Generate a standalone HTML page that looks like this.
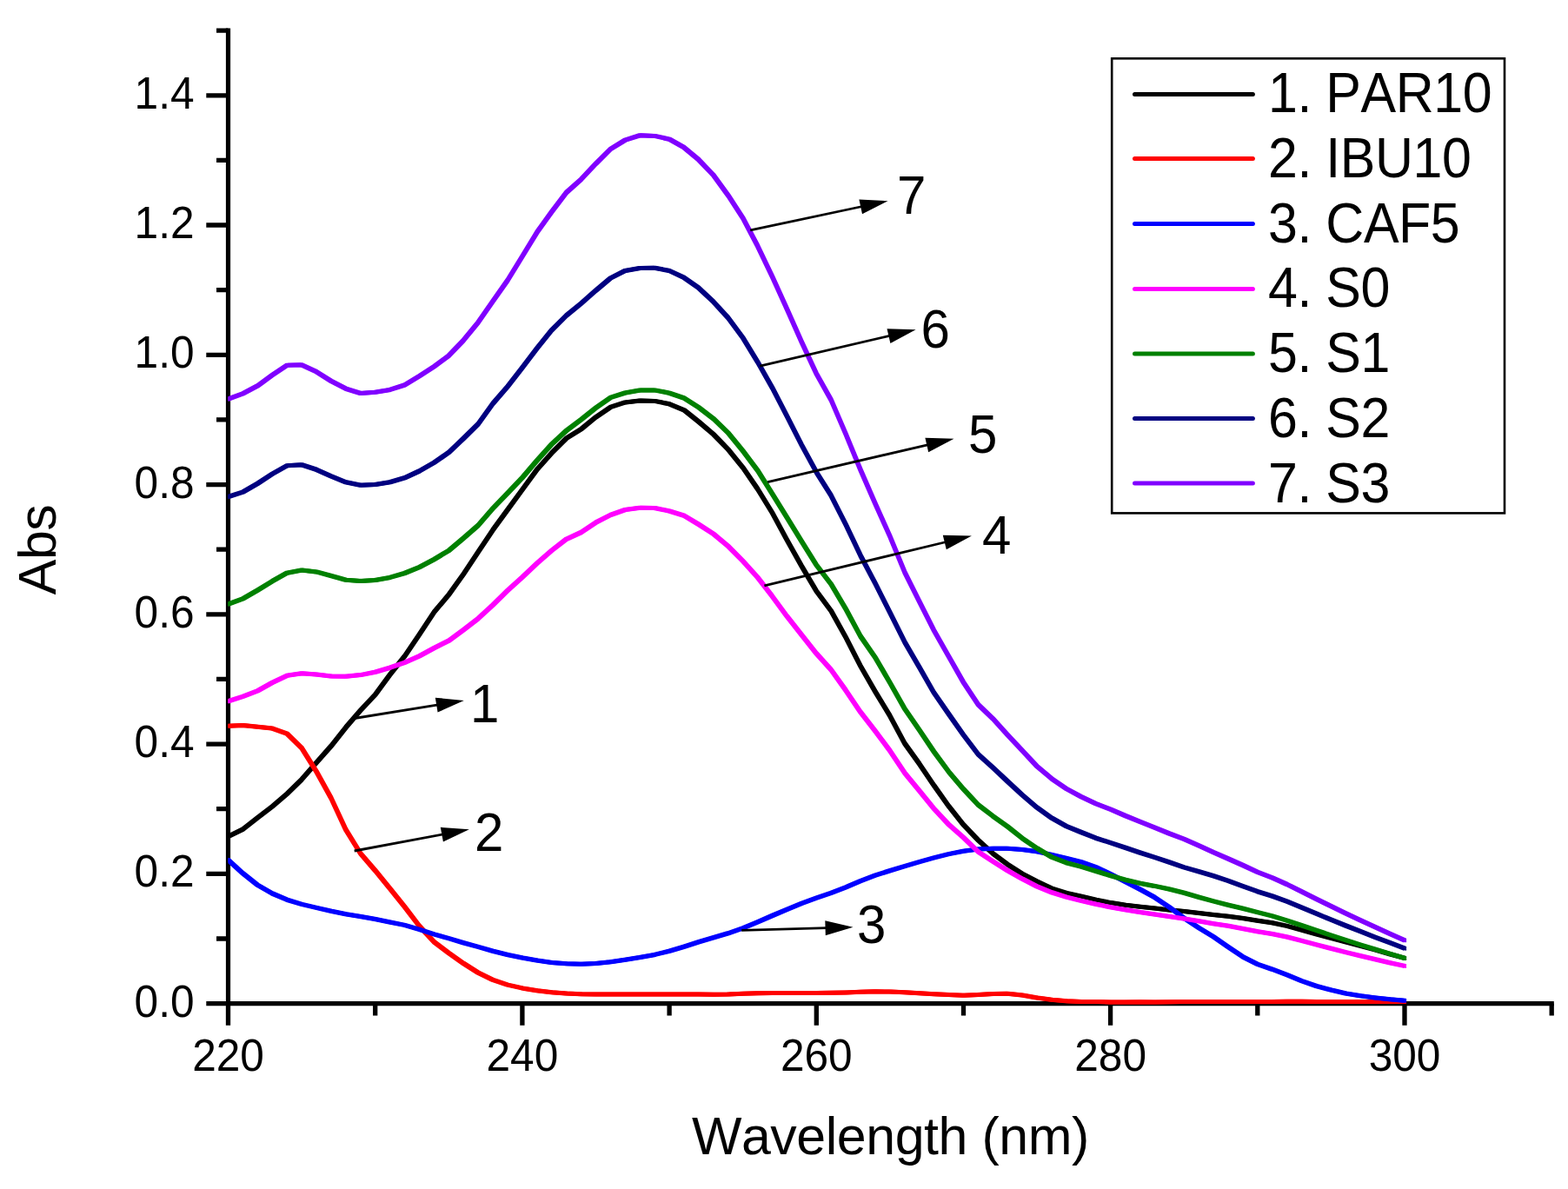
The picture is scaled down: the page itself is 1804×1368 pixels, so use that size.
<!DOCTYPE html>
<html lang="en">
<head>
<meta charset="utf-8">
<title>UV absorbance spectra</title>
<style>
html,body{margin:0;padding:0;background:#fff;}
body{width:1804px;height:1368px;overflow:hidden;}
svg{display:block;}
text{font-family:"Liberation Sans", sans-serif;fill:#000;font-kerning:none;}
.tk{font-size:49.6px;}
.bg{font-size:60.9px;letter-spacing:-0.45px;}
.an{font-size:60px;}
.ax{stroke:#000;stroke-width:5.2;fill:none;stroke-linecap:square;}
.tkl{stroke:#000;stroke-width:5.3;fill:none;stroke-linecap:butt;}
.cv{fill:none;stroke-width:2.7;stroke-linejoin:round;stroke-linecap:round;}
.lg{fill:none;stroke-width:5;stroke-linecap:round;}
.ar{stroke:#000;stroke-width:2.8;fill:none;}
</style>
</head>
<body>
<svg width="1804" height="1368" viewBox="0 0 1804 1368">
<rect x="0" y="0" width="1804" height="1368" fill="#fff"/>
<g id="axes"><path class="ax" d="M262.5 35.2 V1154.6 M262.5 1154.6 H1785.2"/><path class="tkl" d="M237.3 1154.6 H262.5 M249 1080 H262.5 M237.3 1005.3 H262.5 M249 930.7 H262.5 M237.3 856.1 H262.5 M249 781.4 H262.5 M237.3 706.8 H262.5 M249 632.2 H262.5 M237.3 557.6 H262.5 M249 482.9 H262.5 M237.3 408.3 H262.5 M249 333.7 H262.5 M237.3 259 H262.5 M249 184.4 H262.5 M237.3 109.8 H262.5 M249 35.2 H262.5 M262.5 1154.6 V1179.8 M431.7 1154.6 V1168.4 M600.9 1154.6 V1179.8 M770.1 1154.6 V1168.4 M939.3 1154.6 V1179.8 M1108.5 1154.6 V1168.4 M1277.6 1154.6 V1179.8 M1446.8 1154.6 V1168.4 M1616 1154.6 V1179.8 M1785.2 1154.6 V1168.4"/></g>
<g id="yticks" class="tk" text-anchor="end">
<text transform="translate(223.5 1169.6) scale(1 1.04)">0.0</text>
<text transform="translate(223.5 1020.3) scale(1 1.04)">0.2</text>
<text transform="translate(223.5 871.1) scale(1 1.04)">0.4</text>
<text transform="translate(223.5 721.8) scale(1 1.04)">0.6</text>
<text transform="translate(223.5 572.6) scale(1 1.04)">0.8</text>
<text transform="translate(223.5 423.3) scale(1 1.04)">1.0</text>
<text transform="translate(223.5 274) scale(1 1.04)">1.2</text>
<text transform="translate(223.5 124.8) scale(1 1.04)">1.4</text>
</g>
<g id="xticks" class="tk" text-anchor="middle">
<text transform="translate(262.5 1231.9) scale(1 1.04)">220</text>
<text transform="translate(600.9 1231.9) scale(1 1.04)">240</text>
<text transform="translate(939.3 1231.9) scale(1 1.04)">260</text>
<text transform="translate(1277.6 1231.9) scale(1 1.04)">280</text>
<text transform="translate(1616 1231.9) scale(1 1.04)">300</text>
</g>
<text class="bg" text-anchor="middle" transform="translate(1024.3 1328.4)">Wavelength (nm)</text>
<text class="bg" text-anchor="middle" transform="translate(64.4 632.5) rotate(-90)">Abs</text>
<defs><clipPath id="plotclip"><rect x="262.3" y="0" width="1356" height="1368"/></clipPath></defs>
<g id="curves" clip-path="url(#plotclip)">
<g class="cv" stroke="#000000"><polyline points="262.5,962.5 279.4,954.1 296.3,940.9 313.3,927.9 330.2,913.3 347.1,896.8 364.0,877.5 380.9,858.4 397.9,836.9 414.8,817.3 431.7,799.3 448.6,776.2 465.5,755.1 482.4,730.2 499.4,704.3 516.3,684.3 533.2,660.6 550.1,635.1 567.0,609.8 584.0,586.5 600.9,563.4 617.8,540.2 634.7,521.2 651.6,504.3 668.6,493.7 685.5,479.9 702.4,468.4 719.3,462.9 736.2,461.0 753.2,461.4 770.1,464.8 787.0,471.8 803.9,485.3 820.8,499.6 837.7,517.0 854.7,537.9 871.6,562.5 888.5,590.0 905.4,621.2 922.3,651.4 939.3,680.1 956.2,702.9 973.1,733.2 990.0,766.3 1006.9,795.6 1023.9,823.7 1040.8,855.3 1057.7,878.8 1074.6,903.8 1091.5,927.6 1108.5,948.9 1125.4,966.6 1142.3,981.9 1159.2,994.6 1176.1,1005.4 1193.0,1014.1 1210.0,1022.2 1226.9,1027.5 1243.8,1031.1 1260.7,1035.1 1277.6,1038.6 1294.6,1041.2 1311.5,1043.2 1328.4,1045.0 1345.3,1046.9 1362.2,1048.5 1379.2,1050.4 1396.1,1052.4 1413.0,1054.2 1429.9,1056.5 1446.8,1059.2 1463.7,1061.8 1480.7,1065.4 1497.6,1070.0 1514.5,1074.7 1531.4,1079.3 1548.3,1083.8 1565.3,1088.3 1582.2,1092.9 1599.1,1097.7 1616.0,1102.4" transform="translate(-1.15 -1.15)"/><polyline points="262.5,962.5 279.4,954.1 296.3,940.9 313.3,927.9 330.2,913.3 347.1,896.8 364.0,877.5 380.9,858.4 397.9,836.9 414.8,817.3 431.7,799.3 448.6,776.2 465.5,755.1 482.4,730.2 499.4,704.3 516.3,684.3 533.2,660.6 550.1,635.1 567.0,609.8 584.0,586.5 600.9,563.4 617.8,540.2 634.7,521.2 651.6,504.3 668.6,493.7 685.5,479.9 702.4,468.4 719.3,462.9 736.2,461.0 753.2,461.4 770.1,464.8 787.0,471.8 803.9,485.3 820.8,499.6 837.7,517.0 854.7,537.9 871.6,562.5 888.5,590.0 905.4,621.2 922.3,651.4 939.3,680.1 956.2,702.9 973.1,733.2 990.0,766.3 1006.9,795.6 1023.9,823.7 1040.8,855.3 1057.7,878.8 1074.6,903.8 1091.5,927.6 1108.5,948.9 1125.4,966.6 1142.3,981.9 1159.2,994.6 1176.1,1005.4 1193.0,1014.1 1210.0,1022.2 1226.9,1027.5 1243.8,1031.1 1260.7,1035.1 1277.6,1038.6 1294.6,1041.2 1311.5,1043.2 1328.4,1045.0 1345.3,1046.9 1362.2,1048.5 1379.2,1050.4 1396.1,1052.4 1413.0,1054.2 1429.9,1056.5 1446.8,1059.2 1463.7,1061.8 1480.7,1065.4 1497.6,1070.0 1514.5,1074.7 1531.4,1079.3 1548.3,1083.8 1565.3,1088.3 1582.2,1092.9 1599.1,1097.7 1616.0,1102.4" transform="translate(1.15 -1.15)"/><polyline points="262.5,962.5 279.4,954.1 296.3,940.9 313.3,927.9 330.2,913.3 347.1,896.8 364.0,877.5 380.9,858.4 397.9,836.9 414.8,817.3 431.7,799.3 448.6,776.2 465.5,755.1 482.4,730.2 499.4,704.3 516.3,684.3 533.2,660.6 550.1,635.1 567.0,609.8 584.0,586.5 600.9,563.4 617.8,540.2 634.7,521.2 651.6,504.3 668.6,493.7 685.5,479.9 702.4,468.4 719.3,462.9 736.2,461.0 753.2,461.4 770.1,464.8 787.0,471.8 803.9,485.3 820.8,499.6 837.7,517.0 854.7,537.9 871.6,562.5 888.5,590.0 905.4,621.2 922.3,651.4 939.3,680.1 956.2,702.9 973.1,733.2 990.0,766.3 1006.9,795.6 1023.9,823.7 1040.8,855.3 1057.7,878.8 1074.6,903.8 1091.5,927.6 1108.5,948.9 1125.4,966.6 1142.3,981.9 1159.2,994.6 1176.1,1005.4 1193.0,1014.1 1210.0,1022.2 1226.9,1027.5 1243.8,1031.1 1260.7,1035.1 1277.6,1038.6 1294.6,1041.2 1311.5,1043.2 1328.4,1045.0 1345.3,1046.9 1362.2,1048.5 1379.2,1050.4 1396.1,1052.4 1413.0,1054.2 1429.9,1056.5 1446.8,1059.2 1463.7,1061.8 1480.7,1065.4 1497.6,1070.0 1514.5,1074.7 1531.4,1079.3 1548.3,1083.8 1565.3,1088.3 1582.2,1092.9 1599.1,1097.7 1616.0,1102.4" transform="translate(-1.15 1.15)"/><polyline points="262.5,962.5 279.4,954.1 296.3,940.9 313.3,927.9 330.2,913.3 347.1,896.8 364.0,877.5 380.9,858.4 397.9,836.9 414.8,817.3 431.7,799.3 448.6,776.2 465.5,755.1 482.4,730.2 499.4,704.3 516.3,684.3 533.2,660.6 550.1,635.1 567.0,609.8 584.0,586.5 600.9,563.4 617.8,540.2 634.7,521.2 651.6,504.3 668.6,493.7 685.5,479.9 702.4,468.4 719.3,462.9 736.2,461.0 753.2,461.4 770.1,464.8 787.0,471.8 803.9,485.3 820.8,499.6 837.7,517.0 854.7,537.9 871.6,562.5 888.5,590.0 905.4,621.2 922.3,651.4 939.3,680.1 956.2,702.9 973.1,733.2 990.0,766.3 1006.9,795.6 1023.9,823.7 1040.8,855.3 1057.7,878.8 1074.6,903.8 1091.5,927.6 1108.5,948.9 1125.4,966.6 1142.3,981.9 1159.2,994.6 1176.1,1005.4 1193.0,1014.1 1210.0,1022.2 1226.9,1027.5 1243.8,1031.1 1260.7,1035.1 1277.6,1038.6 1294.6,1041.2 1311.5,1043.2 1328.4,1045.0 1345.3,1046.9 1362.2,1048.5 1379.2,1050.4 1396.1,1052.4 1413.0,1054.2 1429.9,1056.5 1446.8,1059.2 1463.7,1061.8 1480.7,1065.4 1497.6,1070.0 1514.5,1074.7 1531.4,1079.3 1548.3,1083.8 1565.3,1088.3 1582.2,1092.9 1599.1,1097.7 1616.0,1102.4" transform="translate(1.15 1.15)"/></g>
<g class="cv" stroke="#ff0000"><polyline points="262.5,835.3 279.4,834.4 296.3,836.2 313.3,838.1 330.2,844.2 347.1,860.6 364.0,887.6 380.9,918.1 397.9,954.7 414.8,982.0 431.7,1001.6 448.6,1022.3 465.5,1043.3 482.4,1065.4 499.4,1083.7 516.3,1096.5 533.2,1108.4 550.1,1119.1 567.0,1127.4 584.0,1133.1 600.9,1136.9 617.8,1139.7 634.7,1141.8 651.6,1143.1 668.6,1143.8 685.5,1144.1 702.4,1144.1 719.3,1144.1 736.2,1144.1 753.2,1144.1 770.1,1144.1 787.0,1144.1 803.9,1144.1 820.8,1144.2 837.7,1144.0 854.7,1143.3 871.6,1142.8 888.5,1142.6 905.4,1142.6 922.3,1142.5 939.3,1142.4 956.2,1142.3 973.1,1141.9 990.0,1141.3 1006.9,1140.8 1023.9,1141.0 1040.8,1141.8 1057.7,1142.8 1074.6,1143.8 1091.5,1144.6 1108.5,1145.2 1125.4,1144.5 1142.3,1143.4 1159.2,1143.3 1176.1,1145.1 1193.0,1147.9 1210.0,1150.2 1226.9,1151.7 1243.8,1152.4 1260.7,1152.6 1277.6,1152.9 1294.6,1152.9 1311.5,1152.7 1328.4,1153.0 1345.3,1152.8 1362.2,1152.6 1379.2,1152.5 1396.1,1152.4 1413.0,1152.4 1429.9,1152.6 1446.8,1152.6 1463.7,1152.5 1480.7,1152.3 1497.6,1152.3 1514.5,1152.4 1531.4,1152.4 1548.3,1152.4 1565.3,1152.4 1582.2,1152.4 1599.1,1152.6 1616.0,1152.6" transform="translate(-1.15 -1.15)"/><polyline points="262.5,835.3 279.4,834.4 296.3,836.2 313.3,838.1 330.2,844.2 347.1,860.6 364.0,887.6 380.9,918.1 397.9,954.7 414.8,982.0 431.7,1001.6 448.6,1022.3 465.5,1043.3 482.4,1065.4 499.4,1083.7 516.3,1096.5 533.2,1108.4 550.1,1119.1 567.0,1127.4 584.0,1133.1 600.9,1136.9 617.8,1139.7 634.7,1141.8 651.6,1143.1 668.6,1143.8 685.5,1144.1 702.4,1144.1 719.3,1144.1 736.2,1144.1 753.2,1144.1 770.1,1144.1 787.0,1144.1 803.9,1144.1 820.8,1144.2 837.7,1144.0 854.7,1143.3 871.6,1142.8 888.5,1142.6 905.4,1142.6 922.3,1142.5 939.3,1142.4 956.2,1142.3 973.1,1141.9 990.0,1141.3 1006.9,1140.8 1023.9,1141.0 1040.8,1141.8 1057.7,1142.8 1074.6,1143.8 1091.5,1144.6 1108.5,1145.2 1125.4,1144.5 1142.3,1143.4 1159.2,1143.3 1176.1,1145.1 1193.0,1147.9 1210.0,1150.2 1226.9,1151.7 1243.8,1152.4 1260.7,1152.6 1277.6,1152.9 1294.6,1152.9 1311.5,1152.7 1328.4,1153.0 1345.3,1152.8 1362.2,1152.6 1379.2,1152.5 1396.1,1152.4 1413.0,1152.4 1429.9,1152.6 1446.8,1152.6 1463.7,1152.5 1480.7,1152.3 1497.6,1152.3 1514.5,1152.4 1531.4,1152.4 1548.3,1152.4 1565.3,1152.4 1582.2,1152.4 1599.1,1152.6 1616.0,1152.6" transform="translate(1.15 -1.15)"/><polyline points="262.5,835.3 279.4,834.4 296.3,836.2 313.3,838.1 330.2,844.2 347.1,860.6 364.0,887.6 380.9,918.1 397.9,954.7 414.8,982.0 431.7,1001.6 448.6,1022.3 465.5,1043.3 482.4,1065.4 499.4,1083.7 516.3,1096.5 533.2,1108.4 550.1,1119.1 567.0,1127.4 584.0,1133.1 600.9,1136.9 617.8,1139.7 634.7,1141.8 651.6,1143.1 668.6,1143.8 685.5,1144.1 702.4,1144.1 719.3,1144.1 736.2,1144.1 753.2,1144.1 770.1,1144.1 787.0,1144.1 803.9,1144.1 820.8,1144.2 837.7,1144.0 854.7,1143.3 871.6,1142.8 888.5,1142.6 905.4,1142.6 922.3,1142.5 939.3,1142.4 956.2,1142.3 973.1,1141.9 990.0,1141.3 1006.9,1140.8 1023.9,1141.0 1040.8,1141.8 1057.7,1142.8 1074.6,1143.8 1091.5,1144.6 1108.5,1145.2 1125.4,1144.5 1142.3,1143.4 1159.2,1143.3 1176.1,1145.1 1193.0,1147.9 1210.0,1150.2 1226.9,1151.7 1243.8,1152.4 1260.7,1152.6 1277.6,1152.9 1294.6,1152.9 1311.5,1152.7 1328.4,1153.0 1345.3,1152.8 1362.2,1152.6 1379.2,1152.5 1396.1,1152.4 1413.0,1152.4 1429.9,1152.6 1446.8,1152.6 1463.7,1152.5 1480.7,1152.3 1497.6,1152.3 1514.5,1152.4 1531.4,1152.4 1548.3,1152.4 1565.3,1152.4 1582.2,1152.4 1599.1,1152.6 1616.0,1152.6" transform="translate(-1.15 1.15)"/><polyline points="262.5,835.3 279.4,834.4 296.3,836.2 313.3,838.1 330.2,844.2 347.1,860.6 364.0,887.6 380.9,918.1 397.9,954.7 414.8,982.0 431.7,1001.6 448.6,1022.3 465.5,1043.3 482.4,1065.4 499.4,1083.7 516.3,1096.5 533.2,1108.4 550.1,1119.1 567.0,1127.4 584.0,1133.1 600.9,1136.9 617.8,1139.7 634.7,1141.8 651.6,1143.1 668.6,1143.8 685.5,1144.1 702.4,1144.1 719.3,1144.1 736.2,1144.1 753.2,1144.1 770.1,1144.1 787.0,1144.1 803.9,1144.1 820.8,1144.2 837.7,1144.0 854.7,1143.3 871.6,1142.8 888.5,1142.6 905.4,1142.6 922.3,1142.5 939.3,1142.4 956.2,1142.3 973.1,1141.9 990.0,1141.3 1006.9,1140.8 1023.9,1141.0 1040.8,1141.8 1057.7,1142.8 1074.6,1143.8 1091.5,1144.6 1108.5,1145.2 1125.4,1144.5 1142.3,1143.4 1159.2,1143.3 1176.1,1145.1 1193.0,1147.9 1210.0,1150.2 1226.9,1151.7 1243.8,1152.4 1260.7,1152.6 1277.6,1152.9 1294.6,1152.9 1311.5,1152.7 1328.4,1153.0 1345.3,1152.8 1362.2,1152.6 1379.2,1152.5 1396.1,1152.4 1413.0,1152.4 1429.9,1152.6 1446.8,1152.6 1463.7,1152.5 1480.7,1152.3 1497.6,1152.3 1514.5,1152.4 1531.4,1152.4 1548.3,1152.4 1565.3,1152.4 1582.2,1152.4 1599.1,1152.6 1616.0,1152.6" transform="translate(1.15 1.15)"/></g>
<g class="cv" stroke="#0000ff"><polyline points="262.5,989.3 279.4,1004.8 296.3,1018.3 313.3,1028.0 330.2,1035.2 347.1,1040.4 364.0,1044.4 380.9,1048.3 397.9,1051.8 414.8,1054.5 431.7,1057.6 448.6,1060.9 465.5,1064.4 482.4,1069.4 499.4,1074.9 516.3,1079.6 533.2,1084.7 550.1,1089.4 567.0,1094.2 584.0,1098.5 600.9,1102.0 617.8,1105.1 634.7,1107.5 651.6,1108.8 668.6,1109.2 685.5,1108.5 702.4,1106.8 719.3,1104.3 736.2,1101.6 753.2,1098.4 770.1,1094.2 787.0,1089.2 803.9,1083.8 820.8,1078.8 837.7,1073.8 854.7,1067.8 871.6,1060.8 888.5,1053.5 905.4,1046.4 922.3,1039.3 939.3,1033.2 956.2,1027.4 973.1,1020.8 990.0,1013.6 1006.9,1007.1 1023.9,1001.8 1040.8,996.6 1057.7,991.6 1074.6,986.9 1091.5,982.6 1108.5,979.2 1125.4,976.9 1142.3,976.3 1159.2,976.3 1176.1,977.6 1193.0,979.7 1210.0,983.4 1226.9,987.5 1243.8,991.7 1260.7,997.6 1277.6,1005.6 1294.6,1014.4 1311.5,1023.1 1328.4,1032.4 1345.3,1043.7 1362.2,1056.2 1379.2,1067.5 1396.1,1077.8 1413.0,1089.5 1429.9,1100.8 1446.8,1109.4 1463.7,1115.2 1480.7,1121.6 1497.6,1128.6 1514.5,1134.5 1531.4,1139.0 1548.3,1143.0 1565.3,1145.7 1582.2,1147.9 1599.1,1149.8 1616.0,1151.3" transform="translate(-1.15 -1.15)"/><polyline points="262.5,989.3 279.4,1004.8 296.3,1018.3 313.3,1028.0 330.2,1035.2 347.1,1040.4 364.0,1044.4 380.9,1048.3 397.9,1051.8 414.8,1054.5 431.7,1057.6 448.6,1060.9 465.5,1064.4 482.4,1069.4 499.4,1074.9 516.3,1079.6 533.2,1084.7 550.1,1089.4 567.0,1094.2 584.0,1098.5 600.9,1102.0 617.8,1105.1 634.7,1107.5 651.6,1108.8 668.6,1109.2 685.5,1108.5 702.4,1106.8 719.3,1104.3 736.2,1101.6 753.2,1098.4 770.1,1094.2 787.0,1089.2 803.9,1083.8 820.8,1078.8 837.7,1073.8 854.7,1067.8 871.6,1060.8 888.5,1053.5 905.4,1046.4 922.3,1039.3 939.3,1033.2 956.2,1027.4 973.1,1020.8 990.0,1013.6 1006.9,1007.1 1023.9,1001.8 1040.8,996.6 1057.7,991.6 1074.6,986.9 1091.5,982.6 1108.5,979.2 1125.4,976.9 1142.3,976.3 1159.2,976.3 1176.1,977.6 1193.0,979.7 1210.0,983.4 1226.9,987.5 1243.8,991.7 1260.7,997.6 1277.6,1005.6 1294.6,1014.4 1311.5,1023.1 1328.4,1032.4 1345.3,1043.7 1362.2,1056.2 1379.2,1067.5 1396.1,1077.8 1413.0,1089.5 1429.9,1100.8 1446.8,1109.4 1463.7,1115.2 1480.7,1121.6 1497.6,1128.6 1514.5,1134.5 1531.4,1139.0 1548.3,1143.0 1565.3,1145.7 1582.2,1147.9 1599.1,1149.8 1616.0,1151.3" transform="translate(1.15 -1.15)"/><polyline points="262.5,989.3 279.4,1004.8 296.3,1018.3 313.3,1028.0 330.2,1035.2 347.1,1040.4 364.0,1044.4 380.9,1048.3 397.9,1051.8 414.8,1054.5 431.7,1057.6 448.6,1060.9 465.5,1064.4 482.4,1069.4 499.4,1074.9 516.3,1079.6 533.2,1084.7 550.1,1089.4 567.0,1094.2 584.0,1098.5 600.9,1102.0 617.8,1105.1 634.7,1107.5 651.6,1108.8 668.6,1109.2 685.5,1108.5 702.4,1106.8 719.3,1104.3 736.2,1101.6 753.2,1098.4 770.1,1094.2 787.0,1089.2 803.9,1083.8 820.8,1078.8 837.7,1073.8 854.7,1067.8 871.6,1060.8 888.5,1053.5 905.4,1046.4 922.3,1039.3 939.3,1033.2 956.2,1027.4 973.1,1020.8 990.0,1013.6 1006.9,1007.1 1023.9,1001.8 1040.8,996.6 1057.7,991.6 1074.6,986.9 1091.5,982.6 1108.5,979.2 1125.4,976.9 1142.3,976.3 1159.2,976.3 1176.1,977.6 1193.0,979.7 1210.0,983.4 1226.9,987.5 1243.8,991.7 1260.7,997.6 1277.6,1005.6 1294.6,1014.4 1311.5,1023.1 1328.4,1032.4 1345.3,1043.7 1362.2,1056.2 1379.2,1067.5 1396.1,1077.8 1413.0,1089.5 1429.9,1100.8 1446.8,1109.4 1463.7,1115.2 1480.7,1121.6 1497.6,1128.6 1514.5,1134.5 1531.4,1139.0 1548.3,1143.0 1565.3,1145.7 1582.2,1147.9 1599.1,1149.8 1616.0,1151.3" transform="translate(-1.15 1.15)"/><polyline points="262.5,989.3 279.4,1004.8 296.3,1018.3 313.3,1028.0 330.2,1035.2 347.1,1040.4 364.0,1044.4 380.9,1048.3 397.9,1051.8 414.8,1054.5 431.7,1057.6 448.6,1060.9 465.5,1064.4 482.4,1069.4 499.4,1074.9 516.3,1079.6 533.2,1084.7 550.1,1089.4 567.0,1094.2 584.0,1098.5 600.9,1102.0 617.8,1105.1 634.7,1107.5 651.6,1108.8 668.6,1109.2 685.5,1108.5 702.4,1106.8 719.3,1104.3 736.2,1101.6 753.2,1098.4 770.1,1094.2 787.0,1089.2 803.9,1083.8 820.8,1078.8 837.7,1073.8 854.7,1067.8 871.6,1060.8 888.5,1053.5 905.4,1046.4 922.3,1039.3 939.3,1033.2 956.2,1027.4 973.1,1020.8 990.0,1013.6 1006.9,1007.1 1023.9,1001.8 1040.8,996.6 1057.7,991.6 1074.6,986.9 1091.5,982.6 1108.5,979.2 1125.4,976.9 1142.3,976.3 1159.2,976.3 1176.1,977.6 1193.0,979.7 1210.0,983.4 1226.9,987.5 1243.8,991.7 1260.7,997.6 1277.6,1005.6 1294.6,1014.4 1311.5,1023.1 1328.4,1032.4 1345.3,1043.7 1362.2,1056.2 1379.2,1067.5 1396.1,1077.8 1413.0,1089.5 1429.9,1100.8 1446.8,1109.4 1463.7,1115.2 1480.7,1121.6 1497.6,1128.6 1514.5,1134.5 1531.4,1139.0 1548.3,1143.0 1565.3,1145.7 1582.2,1147.9 1599.1,1149.8 1616.0,1151.3" transform="translate(1.15 1.15)"/></g>
<g class="cv" stroke="#ff00ff"><polyline points="262.5,806.9 279.4,801.4 296.3,794.9 313.3,785.3 330.2,777.3 347.1,774.7 364.0,775.9 380.9,777.9 397.9,778.2 414.8,776.6 431.7,773.3 448.6,768.2 465.5,762.3 482.4,754.8 499.4,745.6 516.3,737.2 533.2,724.8 550.1,711.7 567.0,696.1 584.0,679.3 600.9,664.2 617.8,648.1 634.7,633.4 651.6,620.3 668.6,612.5 685.5,601.2 702.4,592.5 719.3,586.5 736.2,584.3 753.2,584.5 770.1,588.0 787.0,593.3 803.9,603.4 820.8,614.2 837.7,628.4 854.7,645.5 871.6,664.3 888.5,686.1 905.4,709.1 922.3,730.5 939.3,751.9 956.2,770.6 973.1,794.3 990.0,819.3 1006.9,841.0 1023.9,863.8 1040.8,889.2 1057.7,909.8 1074.6,930.5 1091.5,948.6 1108.5,963.7 1125.4,980.0 1142.3,991.0 1159.2,1001.6 1176.1,1011.2 1193.0,1019.8 1210.0,1026.8 1226.9,1032.1 1243.8,1036.4 1260.7,1040.3 1277.6,1043.7 1294.6,1046.7 1311.5,1049.6 1328.4,1051.9 1345.3,1054.4 1362.2,1057.0 1379.2,1059.8 1396.1,1062.7 1413.0,1065.3 1429.9,1068.4 1446.8,1071.8 1463.7,1074.5 1480.7,1078.0 1497.6,1082.4 1514.5,1086.9 1531.4,1091.3 1548.3,1095.6 1565.3,1099.8 1582.2,1103.8 1599.1,1107.7 1616.0,1111.4" transform="translate(-1.15 -1.15)"/><polyline points="262.5,806.9 279.4,801.4 296.3,794.9 313.3,785.3 330.2,777.3 347.1,774.7 364.0,775.9 380.9,777.9 397.9,778.2 414.8,776.6 431.7,773.3 448.6,768.2 465.5,762.3 482.4,754.8 499.4,745.6 516.3,737.2 533.2,724.8 550.1,711.7 567.0,696.1 584.0,679.3 600.9,664.2 617.8,648.1 634.7,633.4 651.6,620.3 668.6,612.5 685.5,601.2 702.4,592.5 719.3,586.5 736.2,584.3 753.2,584.5 770.1,588.0 787.0,593.3 803.9,603.4 820.8,614.2 837.7,628.4 854.7,645.5 871.6,664.3 888.5,686.1 905.4,709.1 922.3,730.5 939.3,751.9 956.2,770.6 973.1,794.3 990.0,819.3 1006.9,841.0 1023.9,863.8 1040.8,889.2 1057.7,909.8 1074.6,930.5 1091.5,948.6 1108.5,963.7 1125.4,980.0 1142.3,991.0 1159.2,1001.6 1176.1,1011.2 1193.0,1019.8 1210.0,1026.8 1226.9,1032.1 1243.8,1036.4 1260.7,1040.3 1277.6,1043.7 1294.6,1046.7 1311.5,1049.6 1328.4,1051.9 1345.3,1054.4 1362.2,1057.0 1379.2,1059.8 1396.1,1062.7 1413.0,1065.3 1429.9,1068.4 1446.8,1071.8 1463.7,1074.5 1480.7,1078.0 1497.6,1082.4 1514.5,1086.9 1531.4,1091.3 1548.3,1095.6 1565.3,1099.8 1582.2,1103.8 1599.1,1107.7 1616.0,1111.4" transform="translate(1.15 -1.15)"/><polyline points="262.5,806.9 279.4,801.4 296.3,794.9 313.3,785.3 330.2,777.3 347.1,774.7 364.0,775.9 380.9,777.9 397.9,778.2 414.8,776.6 431.7,773.3 448.6,768.2 465.5,762.3 482.4,754.8 499.4,745.6 516.3,737.2 533.2,724.8 550.1,711.7 567.0,696.1 584.0,679.3 600.9,664.2 617.8,648.1 634.7,633.4 651.6,620.3 668.6,612.5 685.5,601.2 702.4,592.5 719.3,586.5 736.2,584.3 753.2,584.5 770.1,588.0 787.0,593.3 803.9,603.4 820.8,614.2 837.7,628.4 854.7,645.5 871.6,664.3 888.5,686.1 905.4,709.1 922.3,730.5 939.3,751.9 956.2,770.6 973.1,794.3 990.0,819.3 1006.9,841.0 1023.9,863.8 1040.8,889.2 1057.7,909.8 1074.6,930.5 1091.5,948.6 1108.5,963.7 1125.4,980.0 1142.3,991.0 1159.2,1001.6 1176.1,1011.2 1193.0,1019.8 1210.0,1026.8 1226.9,1032.1 1243.8,1036.4 1260.7,1040.3 1277.6,1043.7 1294.6,1046.7 1311.5,1049.6 1328.4,1051.9 1345.3,1054.4 1362.2,1057.0 1379.2,1059.8 1396.1,1062.7 1413.0,1065.3 1429.9,1068.4 1446.8,1071.8 1463.7,1074.5 1480.7,1078.0 1497.6,1082.4 1514.5,1086.9 1531.4,1091.3 1548.3,1095.6 1565.3,1099.8 1582.2,1103.8 1599.1,1107.7 1616.0,1111.4" transform="translate(-1.15 1.15)"/><polyline points="262.5,806.9 279.4,801.4 296.3,794.9 313.3,785.3 330.2,777.3 347.1,774.7 364.0,775.9 380.9,777.9 397.9,778.2 414.8,776.6 431.7,773.3 448.6,768.2 465.5,762.3 482.4,754.8 499.4,745.6 516.3,737.2 533.2,724.8 550.1,711.7 567.0,696.1 584.0,679.3 600.9,664.2 617.8,648.1 634.7,633.4 651.6,620.3 668.6,612.5 685.5,601.2 702.4,592.5 719.3,586.5 736.2,584.3 753.2,584.5 770.1,588.0 787.0,593.3 803.9,603.4 820.8,614.2 837.7,628.4 854.7,645.5 871.6,664.3 888.5,686.1 905.4,709.1 922.3,730.5 939.3,751.9 956.2,770.6 973.1,794.3 990.0,819.3 1006.9,841.0 1023.9,863.8 1040.8,889.2 1057.7,909.8 1074.6,930.5 1091.5,948.6 1108.5,963.7 1125.4,980.0 1142.3,991.0 1159.2,1001.6 1176.1,1011.2 1193.0,1019.8 1210.0,1026.8 1226.9,1032.1 1243.8,1036.4 1260.7,1040.3 1277.6,1043.7 1294.6,1046.7 1311.5,1049.6 1328.4,1051.9 1345.3,1054.4 1362.2,1057.0 1379.2,1059.8 1396.1,1062.7 1413.0,1065.3 1429.9,1068.4 1446.8,1071.8 1463.7,1074.5 1480.7,1078.0 1497.6,1082.4 1514.5,1086.9 1531.4,1091.3 1548.3,1095.6 1565.3,1099.8 1582.2,1103.8 1599.1,1107.7 1616.0,1111.4" transform="translate(1.15 1.15)"/></g>
<g class="cv" stroke="#008000"><polyline points="262.5,695.2 279.4,688.9 296.3,679.1 313.3,668.7 330.2,659.2 347.1,656.0 364.0,657.9 380.9,662.5 397.9,667.2 414.8,668.6 431.7,667.5 448.6,664.4 465.5,659.5 482.4,652.6 499.4,643.6 516.3,633.5 533.2,619.2 550.1,604.5 567.0,585.0 584.0,567.3 600.9,549.6 617.8,529.9 634.7,511.1 651.6,495.5 668.6,482.7 685.5,469.2 702.4,457.4 719.3,452.0 736.2,449.0 753.2,448.9 770.1,452.2 787.0,458.0 803.9,468.8 820.8,481.7 837.7,498.0 854.7,518.7 871.6,541.2 888.5,568.1 905.4,595.4 922.3,622.8 939.3,650.1 956.2,672.1 973.1,700.6 990.0,732.0 1006.9,756.3 1023.9,785.5 1040.8,815.4 1057.7,839.9 1074.6,865.0 1091.5,887.9 1108.5,907.9 1125.4,926.0 1142.3,938.9 1159.2,951.0 1176.1,964.4 1193.0,975.9 1210.0,986.1 1226.9,992.7 1243.8,997.1 1260.7,1002.3 1277.6,1007.5 1294.6,1012.3 1311.5,1016.2 1328.4,1019.4 1345.3,1023.0 1362.2,1027.3 1379.2,1032.3 1396.1,1036.9 1413.0,1041.2 1429.9,1045.3 1446.8,1049.6 1463.7,1053.9 1480.7,1059.1 1497.6,1064.7 1514.5,1070.4 1531.4,1076.1 1548.3,1081.6 1565.3,1087.1 1582.2,1092.3 1599.1,1097.4 1616.0,1102.4" transform="translate(-1.15 -1.15)"/><polyline points="262.5,695.2 279.4,688.9 296.3,679.1 313.3,668.7 330.2,659.2 347.1,656.0 364.0,657.9 380.9,662.5 397.9,667.2 414.8,668.6 431.7,667.5 448.6,664.4 465.5,659.5 482.4,652.6 499.4,643.6 516.3,633.5 533.2,619.2 550.1,604.5 567.0,585.0 584.0,567.3 600.9,549.6 617.8,529.9 634.7,511.1 651.6,495.5 668.6,482.7 685.5,469.2 702.4,457.4 719.3,452.0 736.2,449.0 753.2,448.9 770.1,452.2 787.0,458.0 803.9,468.8 820.8,481.7 837.7,498.0 854.7,518.7 871.6,541.2 888.5,568.1 905.4,595.4 922.3,622.8 939.3,650.1 956.2,672.1 973.1,700.6 990.0,732.0 1006.9,756.3 1023.9,785.5 1040.8,815.4 1057.7,839.9 1074.6,865.0 1091.5,887.9 1108.5,907.9 1125.4,926.0 1142.3,938.9 1159.2,951.0 1176.1,964.4 1193.0,975.9 1210.0,986.1 1226.9,992.7 1243.8,997.1 1260.7,1002.3 1277.6,1007.5 1294.6,1012.3 1311.5,1016.2 1328.4,1019.4 1345.3,1023.0 1362.2,1027.3 1379.2,1032.3 1396.1,1036.9 1413.0,1041.2 1429.9,1045.3 1446.8,1049.6 1463.7,1053.9 1480.7,1059.1 1497.6,1064.7 1514.5,1070.4 1531.4,1076.1 1548.3,1081.6 1565.3,1087.1 1582.2,1092.3 1599.1,1097.4 1616.0,1102.4" transform="translate(1.15 -1.15)"/><polyline points="262.5,695.2 279.4,688.9 296.3,679.1 313.3,668.7 330.2,659.2 347.1,656.0 364.0,657.9 380.9,662.5 397.9,667.2 414.8,668.6 431.7,667.5 448.6,664.4 465.5,659.5 482.4,652.6 499.4,643.6 516.3,633.5 533.2,619.2 550.1,604.5 567.0,585.0 584.0,567.3 600.9,549.6 617.8,529.9 634.7,511.1 651.6,495.5 668.6,482.7 685.5,469.2 702.4,457.4 719.3,452.0 736.2,449.0 753.2,448.9 770.1,452.2 787.0,458.0 803.9,468.8 820.8,481.7 837.7,498.0 854.7,518.7 871.6,541.2 888.5,568.1 905.4,595.4 922.3,622.8 939.3,650.1 956.2,672.1 973.1,700.6 990.0,732.0 1006.9,756.3 1023.9,785.5 1040.8,815.4 1057.7,839.9 1074.6,865.0 1091.5,887.9 1108.5,907.9 1125.4,926.0 1142.3,938.9 1159.2,951.0 1176.1,964.4 1193.0,975.9 1210.0,986.1 1226.9,992.7 1243.8,997.1 1260.7,1002.3 1277.6,1007.5 1294.6,1012.3 1311.5,1016.2 1328.4,1019.4 1345.3,1023.0 1362.2,1027.3 1379.2,1032.3 1396.1,1036.9 1413.0,1041.2 1429.9,1045.3 1446.8,1049.6 1463.7,1053.9 1480.7,1059.1 1497.6,1064.7 1514.5,1070.4 1531.4,1076.1 1548.3,1081.6 1565.3,1087.1 1582.2,1092.3 1599.1,1097.4 1616.0,1102.4" transform="translate(-1.15 1.15)"/><polyline points="262.5,695.2 279.4,688.9 296.3,679.1 313.3,668.7 330.2,659.2 347.1,656.0 364.0,657.9 380.9,662.5 397.9,667.2 414.8,668.6 431.7,667.5 448.6,664.4 465.5,659.5 482.4,652.6 499.4,643.6 516.3,633.5 533.2,619.2 550.1,604.5 567.0,585.0 584.0,567.3 600.9,549.6 617.8,529.9 634.7,511.1 651.6,495.5 668.6,482.7 685.5,469.2 702.4,457.4 719.3,452.0 736.2,449.0 753.2,448.9 770.1,452.2 787.0,458.0 803.9,468.8 820.8,481.7 837.7,498.0 854.7,518.7 871.6,541.2 888.5,568.1 905.4,595.4 922.3,622.8 939.3,650.1 956.2,672.1 973.1,700.6 990.0,732.0 1006.9,756.3 1023.9,785.5 1040.8,815.4 1057.7,839.9 1074.6,865.0 1091.5,887.9 1108.5,907.9 1125.4,926.0 1142.3,938.9 1159.2,951.0 1176.1,964.4 1193.0,975.9 1210.0,986.1 1226.9,992.7 1243.8,997.1 1260.7,1002.3 1277.6,1007.5 1294.6,1012.3 1311.5,1016.2 1328.4,1019.4 1345.3,1023.0 1362.2,1027.3 1379.2,1032.3 1396.1,1036.9 1413.0,1041.2 1429.9,1045.3 1446.8,1049.6 1463.7,1053.9 1480.7,1059.1 1497.6,1064.7 1514.5,1070.4 1531.4,1076.1 1548.3,1081.6 1565.3,1087.1 1582.2,1092.3 1599.1,1097.4 1616.0,1102.4" transform="translate(1.15 1.15)"/></g>
<g class="cv" stroke="#000080"><polyline points="262.5,571.6 279.4,566.1 296.3,556.4 313.3,545.3 330.2,535.7 347.1,534.7 364.0,540.3 380.9,547.9 397.9,554.8 414.8,558.2 431.7,557.6 448.6,554.8 465.5,549.8 482.4,542.0 499.4,532.3 516.3,520.6 533.2,504.5 550.1,487.9 567.0,464.4 584.0,444.8 600.9,423.1 617.8,400.8 634.7,379.8 651.6,363.0 668.6,349.1 685.5,334.2 702.4,320.0 719.3,311.4 736.2,308.4 753.2,308.3 770.1,311.5 787.0,319.4 803.9,331.3 820.8,347.2 837.7,365.6 854.7,388.6 871.6,416.3 888.5,446.1 905.4,478.7 922.3,512.0 939.3,543.3 956.2,570.2 973.1,603.6 990.0,639.1 1006.9,671.0 1023.9,704.8 1040.8,738.6 1057.7,767.7 1074.6,797.2 1091.5,821.5 1108.5,845.6 1125.4,867.9 1142.3,883.1 1159.2,899.0 1176.1,914.6 1193.0,929.1 1210.0,941.2 1226.9,950.6 1243.8,957.5 1260.7,964.2 1277.6,969.6 1294.6,975.2 1311.5,981.0 1328.4,986.4 1345.3,992.0 1362.2,997.9 1379.2,1002.8 1396.1,1007.8 1413.0,1013.4 1429.9,1019.7 1446.8,1025.7 1463.7,1031.0 1480.7,1037.2 1497.6,1044.2 1514.5,1051.2 1531.4,1058.2 1548.3,1065.0 1565.3,1071.7 1582.2,1078.3 1599.1,1084.7 1616.0,1091.1" transform="translate(-1.15 -1.15)"/><polyline points="262.5,571.6 279.4,566.1 296.3,556.4 313.3,545.3 330.2,535.7 347.1,534.7 364.0,540.3 380.9,547.9 397.9,554.8 414.8,558.2 431.7,557.6 448.6,554.8 465.5,549.8 482.4,542.0 499.4,532.3 516.3,520.6 533.2,504.5 550.1,487.9 567.0,464.4 584.0,444.8 600.9,423.1 617.8,400.8 634.7,379.8 651.6,363.0 668.6,349.1 685.5,334.2 702.4,320.0 719.3,311.4 736.2,308.4 753.2,308.3 770.1,311.5 787.0,319.4 803.9,331.3 820.8,347.2 837.7,365.6 854.7,388.6 871.6,416.3 888.5,446.1 905.4,478.7 922.3,512.0 939.3,543.3 956.2,570.2 973.1,603.6 990.0,639.1 1006.9,671.0 1023.9,704.8 1040.8,738.6 1057.7,767.7 1074.6,797.2 1091.5,821.5 1108.5,845.6 1125.4,867.9 1142.3,883.1 1159.2,899.0 1176.1,914.6 1193.0,929.1 1210.0,941.2 1226.9,950.6 1243.8,957.5 1260.7,964.2 1277.6,969.6 1294.6,975.2 1311.5,981.0 1328.4,986.4 1345.3,992.0 1362.2,997.9 1379.2,1002.8 1396.1,1007.8 1413.0,1013.4 1429.9,1019.7 1446.8,1025.7 1463.7,1031.0 1480.7,1037.2 1497.6,1044.2 1514.5,1051.2 1531.4,1058.2 1548.3,1065.0 1565.3,1071.7 1582.2,1078.3 1599.1,1084.7 1616.0,1091.1" transform="translate(1.15 -1.15)"/><polyline points="262.5,571.6 279.4,566.1 296.3,556.4 313.3,545.3 330.2,535.7 347.1,534.7 364.0,540.3 380.9,547.9 397.9,554.8 414.8,558.2 431.7,557.6 448.6,554.8 465.5,549.8 482.4,542.0 499.4,532.3 516.3,520.6 533.2,504.5 550.1,487.9 567.0,464.4 584.0,444.8 600.9,423.1 617.8,400.8 634.7,379.8 651.6,363.0 668.6,349.1 685.5,334.2 702.4,320.0 719.3,311.4 736.2,308.4 753.2,308.3 770.1,311.5 787.0,319.4 803.9,331.3 820.8,347.2 837.7,365.6 854.7,388.6 871.6,416.3 888.5,446.1 905.4,478.7 922.3,512.0 939.3,543.3 956.2,570.2 973.1,603.6 990.0,639.1 1006.9,671.0 1023.9,704.8 1040.8,738.6 1057.7,767.7 1074.6,797.2 1091.5,821.5 1108.5,845.6 1125.4,867.9 1142.3,883.1 1159.2,899.0 1176.1,914.6 1193.0,929.1 1210.0,941.2 1226.9,950.6 1243.8,957.5 1260.7,964.2 1277.6,969.6 1294.6,975.2 1311.5,981.0 1328.4,986.4 1345.3,992.0 1362.2,997.9 1379.2,1002.8 1396.1,1007.8 1413.0,1013.4 1429.9,1019.7 1446.8,1025.7 1463.7,1031.0 1480.7,1037.2 1497.6,1044.2 1514.5,1051.2 1531.4,1058.2 1548.3,1065.0 1565.3,1071.7 1582.2,1078.3 1599.1,1084.7 1616.0,1091.1" transform="translate(-1.15 1.15)"/><polyline points="262.5,571.6 279.4,566.1 296.3,556.4 313.3,545.3 330.2,535.7 347.1,534.7 364.0,540.3 380.9,547.9 397.9,554.8 414.8,558.2 431.7,557.6 448.6,554.8 465.5,549.8 482.4,542.0 499.4,532.3 516.3,520.6 533.2,504.5 550.1,487.9 567.0,464.4 584.0,444.8 600.9,423.1 617.8,400.8 634.7,379.8 651.6,363.0 668.6,349.1 685.5,334.2 702.4,320.0 719.3,311.4 736.2,308.4 753.2,308.3 770.1,311.5 787.0,319.4 803.9,331.3 820.8,347.2 837.7,365.6 854.7,388.6 871.6,416.3 888.5,446.1 905.4,478.7 922.3,512.0 939.3,543.3 956.2,570.2 973.1,603.6 990.0,639.1 1006.9,671.0 1023.9,704.8 1040.8,738.6 1057.7,767.7 1074.6,797.2 1091.5,821.5 1108.5,845.6 1125.4,867.9 1142.3,883.1 1159.2,899.0 1176.1,914.6 1193.0,929.1 1210.0,941.2 1226.9,950.6 1243.8,957.5 1260.7,964.2 1277.6,969.6 1294.6,975.2 1311.5,981.0 1328.4,986.4 1345.3,992.0 1362.2,997.9 1379.2,1002.8 1396.1,1007.8 1413.0,1013.4 1429.9,1019.7 1446.8,1025.7 1463.7,1031.0 1480.7,1037.2 1497.6,1044.2 1514.5,1051.2 1531.4,1058.2 1548.3,1065.0 1565.3,1071.7 1582.2,1078.3 1599.1,1084.7 1616.0,1091.1" transform="translate(1.15 1.15)"/></g>
<g class="cv" stroke="#8000ff"><polyline points="262.5,459.2 279.4,452.9 296.3,443.9 313.3,431.6 330.2,420.2 347.1,419.8 364.0,427.7 380.9,438.4 397.9,447.2 414.8,452.5 431.7,451.2 448.6,448.4 465.5,443.0 482.4,432.8 499.4,421.7 516.3,409.2 533.2,391.6 550.1,370.9 567.0,346.6 584.0,322.5 600.9,295.0 617.8,267.3 634.7,243.7 651.6,221.5 668.6,206.3 685.5,188.3 702.4,171.5 719.3,161.1 736.2,155.8 753.2,156.4 770.1,160.2 787.0,169.7 803.9,183.8 820.8,201.5 837.7,224.7 854.7,250.8 871.6,282.9 888.5,318.3 905.4,355.5 922.3,393.5 939.3,430.0 956.2,460.1 973.1,499.4 990.0,540.5 1006.9,579.3 1023.9,617.1 1040.8,658.2 1057.7,692.0 1074.6,725.5 1091.5,755.2 1108.5,785.1 1125.4,810.7 1142.3,826.8 1159.2,845.5 1176.1,863.5 1193.0,881.6 1210.0,895.9 1226.9,907.5 1243.8,916.6 1260.7,924.7 1277.6,931.1 1294.6,938.5 1311.5,945.3 1328.4,952.2 1345.3,959.0 1362.2,965.3 1379.2,972.9 1396.1,980.7 1413.0,988.0 1429.9,995.5 1446.8,1003.3 1463.7,1009.9 1480.7,1017.5 1497.6,1025.9 1514.5,1034.4 1531.4,1042.7 1548.3,1050.8 1565.3,1058.8 1582.2,1066.7 1599.1,1074.3 1616.0,1081.8" transform="translate(-1.15 -1.15)"/><polyline points="262.5,459.2 279.4,452.9 296.3,443.9 313.3,431.6 330.2,420.2 347.1,419.8 364.0,427.7 380.9,438.4 397.9,447.2 414.8,452.5 431.7,451.2 448.6,448.4 465.5,443.0 482.4,432.8 499.4,421.7 516.3,409.2 533.2,391.6 550.1,370.9 567.0,346.6 584.0,322.5 600.9,295.0 617.8,267.3 634.7,243.7 651.6,221.5 668.6,206.3 685.5,188.3 702.4,171.5 719.3,161.1 736.2,155.8 753.2,156.4 770.1,160.2 787.0,169.7 803.9,183.8 820.8,201.5 837.7,224.7 854.7,250.8 871.6,282.9 888.5,318.3 905.4,355.5 922.3,393.5 939.3,430.0 956.2,460.1 973.1,499.4 990.0,540.5 1006.9,579.3 1023.9,617.1 1040.8,658.2 1057.7,692.0 1074.6,725.5 1091.5,755.2 1108.5,785.1 1125.4,810.7 1142.3,826.8 1159.2,845.5 1176.1,863.5 1193.0,881.6 1210.0,895.9 1226.9,907.5 1243.8,916.6 1260.7,924.7 1277.6,931.1 1294.6,938.5 1311.5,945.3 1328.4,952.2 1345.3,959.0 1362.2,965.3 1379.2,972.9 1396.1,980.7 1413.0,988.0 1429.9,995.5 1446.8,1003.3 1463.7,1009.9 1480.7,1017.5 1497.6,1025.9 1514.5,1034.4 1531.4,1042.7 1548.3,1050.8 1565.3,1058.8 1582.2,1066.7 1599.1,1074.3 1616.0,1081.8" transform="translate(1.15 -1.15)"/><polyline points="262.5,459.2 279.4,452.9 296.3,443.9 313.3,431.6 330.2,420.2 347.1,419.8 364.0,427.7 380.9,438.4 397.9,447.2 414.8,452.5 431.7,451.2 448.6,448.4 465.5,443.0 482.4,432.8 499.4,421.7 516.3,409.2 533.2,391.6 550.1,370.9 567.0,346.6 584.0,322.5 600.9,295.0 617.8,267.3 634.7,243.7 651.6,221.5 668.6,206.3 685.5,188.3 702.4,171.5 719.3,161.1 736.2,155.8 753.2,156.4 770.1,160.2 787.0,169.7 803.9,183.8 820.8,201.5 837.7,224.7 854.7,250.8 871.6,282.9 888.5,318.3 905.4,355.5 922.3,393.5 939.3,430.0 956.2,460.1 973.1,499.4 990.0,540.5 1006.9,579.3 1023.9,617.1 1040.8,658.2 1057.7,692.0 1074.6,725.5 1091.5,755.2 1108.5,785.1 1125.4,810.7 1142.3,826.8 1159.2,845.5 1176.1,863.5 1193.0,881.6 1210.0,895.9 1226.9,907.5 1243.8,916.6 1260.7,924.7 1277.6,931.1 1294.6,938.5 1311.5,945.3 1328.4,952.2 1345.3,959.0 1362.2,965.3 1379.2,972.9 1396.1,980.7 1413.0,988.0 1429.9,995.5 1446.8,1003.3 1463.7,1009.9 1480.7,1017.5 1497.6,1025.9 1514.5,1034.4 1531.4,1042.7 1548.3,1050.8 1565.3,1058.8 1582.2,1066.7 1599.1,1074.3 1616.0,1081.8" transform="translate(-1.15 1.15)"/><polyline points="262.5,459.2 279.4,452.9 296.3,443.9 313.3,431.6 330.2,420.2 347.1,419.8 364.0,427.7 380.9,438.4 397.9,447.2 414.8,452.5 431.7,451.2 448.6,448.4 465.5,443.0 482.4,432.8 499.4,421.7 516.3,409.2 533.2,391.6 550.1,370.9 567.0,346.6 584.0,322.5 600.9,295.0 617.8,267.3 634.7,243.7 651.6,221.5 668.6,206.3 685.5,188.3 702.4,171.5 719.3,161.1 736.2,155.8 753.2,156.4 770.1,160.2 787.0,169.7 803.9,183.8 820.8,201.5 837.7,224.7 854.7,250.8 871.6,282.9 888.5,318.3 905.4,355.5 922.3,393.5 939.3,430.0 956.2,460.1 973.1,499.4 990.0,540.5 1006.9,579.3 1023.9,617.1 1040.8,658.2 1057.7,692.0 1074.6,725.5 1091.5,755.2 1108.5,785.1 1125.4,810.7 1142.3,826.8 1159.2,845.5 1176.1,863.5 1193.0,881.6 1210.0,895.9 1226.9,907.5 1243.8,916.6 1260.7,924.7 1277.6,931.1 1294.6,938.5 1311.5,945.3 1328.4,952.2 1345.3,959.0 1362.2,965.3 1379.2,972.9 1396.1,980.7 1413.0,988.0 1429.9,995.5 1446.8,1003.3 1463.7,1009.9 1480.7,1017.5 1497.6,1025.9 1514.5,1034.4 1531.4,1042.7 1548.3,1050.8 1565.3,1058.8 1582.2,1066.7 1599.1,1074.3 1616.0,1081.8" transform="translate(1.15 1.15)"/></g>
</g>
<g id="annotations">
<path class="ar" d="M407.7 826.5 L504.2 810.8"/><path fill="#000" d="M533.8 806.0 L503.6 819.5 L500.8 802.7 Z"/><text class="an" transform="translate(540.9 831.0) scale(1 1.04)">1</text>
<path class="ar" d="M407.7 979.0 L510.3 959.8"/><path fill="#000" d="M539.8 954.3 L509.9 968.5 L506.8 951.8 Z"/><text class="an" transform="translate(546.0 979.0) scale(1 1.04)">2</text>
<path class="ar" d="M853.2 1070.4 L951.5 1067.6"/><path fill="#000" d="M981.5 1066.8 L949.8 1076.2 L949.3 1059.2 Z"/><text class="an" transform="translate(986.0 1085.2) scale(1 1.04)">3</text>
<path class="ar" d="M879.4 673.9 L1088.7 623.5"/><path fill="#000" d="M1117.9 616.5 L1088.8 632.3 L1084.8 615.7 Z"/><text class="an" transform="translate(1130.0 637.0) scale(1 1.04)">4</text>
<path class="ar" d="M883.2 554.6 L1068.3 511.6"/><path fill="#000" d="M1097.5 504.8 L1068.2 520.3 L1064.4 503.8 Z"/><text class="an" transform="translate(1114.0 521.2) scale(1 1.04)">5</text>
<path class="ar" d="M874.3 421.2 L1024.4 386.1"/><path fill="#000" d="M1053.6 379.3 L1024.4 394.9 L1020.5 378.3 Z"/><text class="an" transform="translate(1059.6 400.2) scale(1 1.04)">6</text>
<path class="ar" d="M863.2 264.9 L992.1 237.5"/><path fill="#000" d="M1021.5 231.2 L992.0 246.2 L988.4 229.6 Z"/><text class="an" transform="translate(1032.0 246.0) scale(1 1.04)">7</text>
</g>
<g id="legend">
<rect x="1279.2" y="67.3" width="451.8" height="523.1" fill="#fff" stroke="#000" stroke-width="2.6"/>
<path class="lg" stroke="#000000" d="M1305.5 108.5 H1441.4"/><text class="bg" transform="translate(1459 129.0) scale(1 1.058)">1. PAR10</text>
<path class="lg" stroke="#ff0000" d="M1305.5 182.5 H1441.4"/><text class="bg" transform="translate(1459 203.8) scale(1 1.058)">2. IBU10</text>
<path class="lg" stroke="#0000ff" d="M1305.5 257.5 H1441.4"/><text class="bg" transform="translate(1459 278.5) scale(1 1.058)">3. CAF5</text>
<path class="lg" stroke="#ff00ff" d="M1305.5 332.5 H1441.4"/><text class="bg" transform="translate(1459 353.2) scale(1 1.058)">4. S0</text>
<path class="lg" stroke="#008000" d="M1305.5 407.0 H1441.4"/><text class="bg" transform="translate(1459 428.0) scale(1 1.058)">5. S1</text>
<path class="lg" stroke="#000080" d="M1305.5 481.5 H1441.4"/><text class="bg" transform="translate(1459 502.8) scale(1 1.058)">6. S2</text>
<path class="lg" stroke="#8000ff" d="M1305.5 556.0 H1441.4"/><text class="bg" transform="translate(1459 577.5) scale(1 1.058)">7. S3</text>
</g>
</svg>
</body>
</html>
